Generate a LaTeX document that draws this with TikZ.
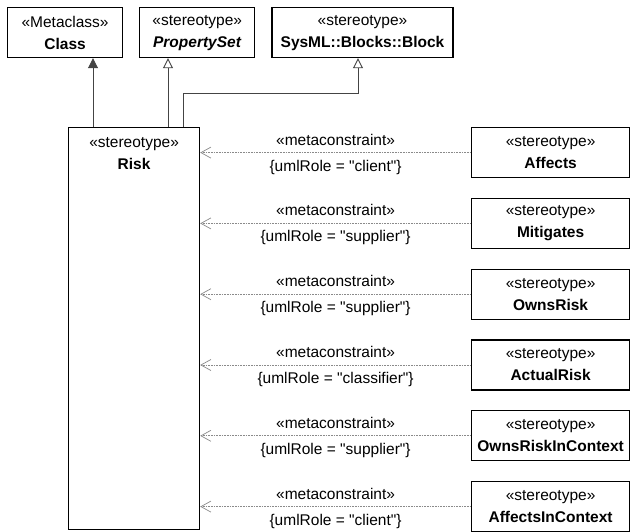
\documentclass[tikz,border=0pt]{standalone}
\usepackage{fontspec}
\setmainfont{Liberation Sans}[Ligatures=TeXOff]
\usetikzlibrary{arrows.meta,positioning}
\definecolor{umlline}{HTML}{444444}
\definecolor{umldep}{HTML}{8A8A8A}
\begin{document}
\begin{tikzpicture}[
  x=1pt, y=-1pt,
  font=\fontsize{15.5}{22}\selectfont,
  box/.style={draw, line width=1.2pt, align=center, minimum height=50pt, inner sep=2pt},
  topbox/.style={box, minimum width=115pt},
  sbox/.style={box, minimum width=158pt},
  ext/.style={-{Triangle[length=10pt, width=10pt]}, line width=0.9pt, umlline},
  gen/.style={-{Triangle[open, length=10pt, width=10pt]}, line width=0.9pt, umlline},
  dep/.style={-{Straight Barb[length=10pt, width=11pt]}, line width=0.7pt, umldep, dash pattern=on 1pt off 0.6pt},
  lbl/.style={text=black, inner sep=2pt},
  node distance=16pt]
  \useasboundingbox (0,0) rectangle (632,531);
  % metaclass and generalised stereotypes
  \node[topbox, anchor=north west] (cls) at (7,7) {«Metaclass»\\\textbf{Class}};
  \node[topbox, right=of cls] (pset) {«stereotype»\\\textbf{\textit{PropertySet}}};
  \node[topbox, minimum width=181pt, right=of pset] (blk) {«stereotype»\\\textbf{SysML::Blocks::Block}};
  \node[box, anchor=north west, minimum width=131pt, minimum height=402pt,
    label={[anchor=north, align=center, inner sep=2pt, yshift=-8pt]north:«stereotype»\\\textbf{Risk}}] (risk) at (68,127) {};
  % constrained stereotypes
  \node[sbox, anchor=north west] (affects) at (471,127) {«stereotype»\\\textbf{Affects}};
  \node[sbox, below=19.6pt of affects] (mitig) {«stereotype»\\\textbf{Mitigates}};
  \node[sbox, below=19.6pt of mitig] (owns) {«stereotype»\\\textbf{OwnsRisk}};
  \node[sbox, below=19.6pt of owns] (actual) {«stereotype»\\\textbf{ActualRisk}};
  \node[sbox, below=19.6pt of actual] (ownsctx) {«stereotype»\\\textbf{OwnsRiskInContext}};
  \node[sbox, below=19.6pt of ownsctx] (affctx) {«stereotype»\\\textbf{AffectsInContext}};
  % extension and generalisations
  \coordinate (clsfoot) at ([xshift=25pt]risk.north west);
  \coordinate (psetfoot) at ([xshift=100pt]risk.north west);
  \coordinate (blkfoot) at ([xshift=115pt]risk.north west);
  \draw[ext] (clsfoot) -- (clsfoot |- cls.south);
  \draw[gen] (psetfoot) -- (psetfoot |- pset.south);
  \draw[gen] (blkfoot) -- ++(0pt,34pt) -| ([xshift=-4.5pt]blk.south);
  % metaconstraints
  \draw[dep] (affects.west) -- (affects.west -| risk.east)
    node[lbl, midway, above=5pt] {«metaconstraint»} node[lbl, midway, below=5pt] {\{umlRole = "client"\}};
  \draw[dep] (mitig.west) -- (mitig.west -| risk.east)
    node[lbl, midway, above=5pt] {«metaconstraint»} node[lbl, midway, below=5pt] {\{umlRole = "supplier"\}};
  \draw[dep] (owns.west) -- (owns.west -| risk.east)
    node[lbl, midway, above=5pt] {«metaconstraint»} node[lbl, midway, below=5pt] {\{umlRole = "supplier"\}};
  \draw[dep] (actual.west) -- (actual.west -| risk.east)
    node[lbl, midway, above=5pt] {«metaconstraint»} node[lbl, midway, below=5pt] {\{umlRole = "classifier"\}};
  \draw[dep] (ownsctx.west) -- (ownsctx.west -| risk.east)
    node[lbl, midway, above=5pt] {«metaconstraint»} node[lbl, midway, below=5pt] {\{umlRole = "supplier"\}};
  \draw[dep] (affctx.west) -- (affctx.west -| risk.east)
    node[lbl, midway, above=5pt] {«metaconstraint»} node[lbl, midway, below=5pt] {\{umlRole = "client"\}};
\end{tikzpicture}
\end{document}
